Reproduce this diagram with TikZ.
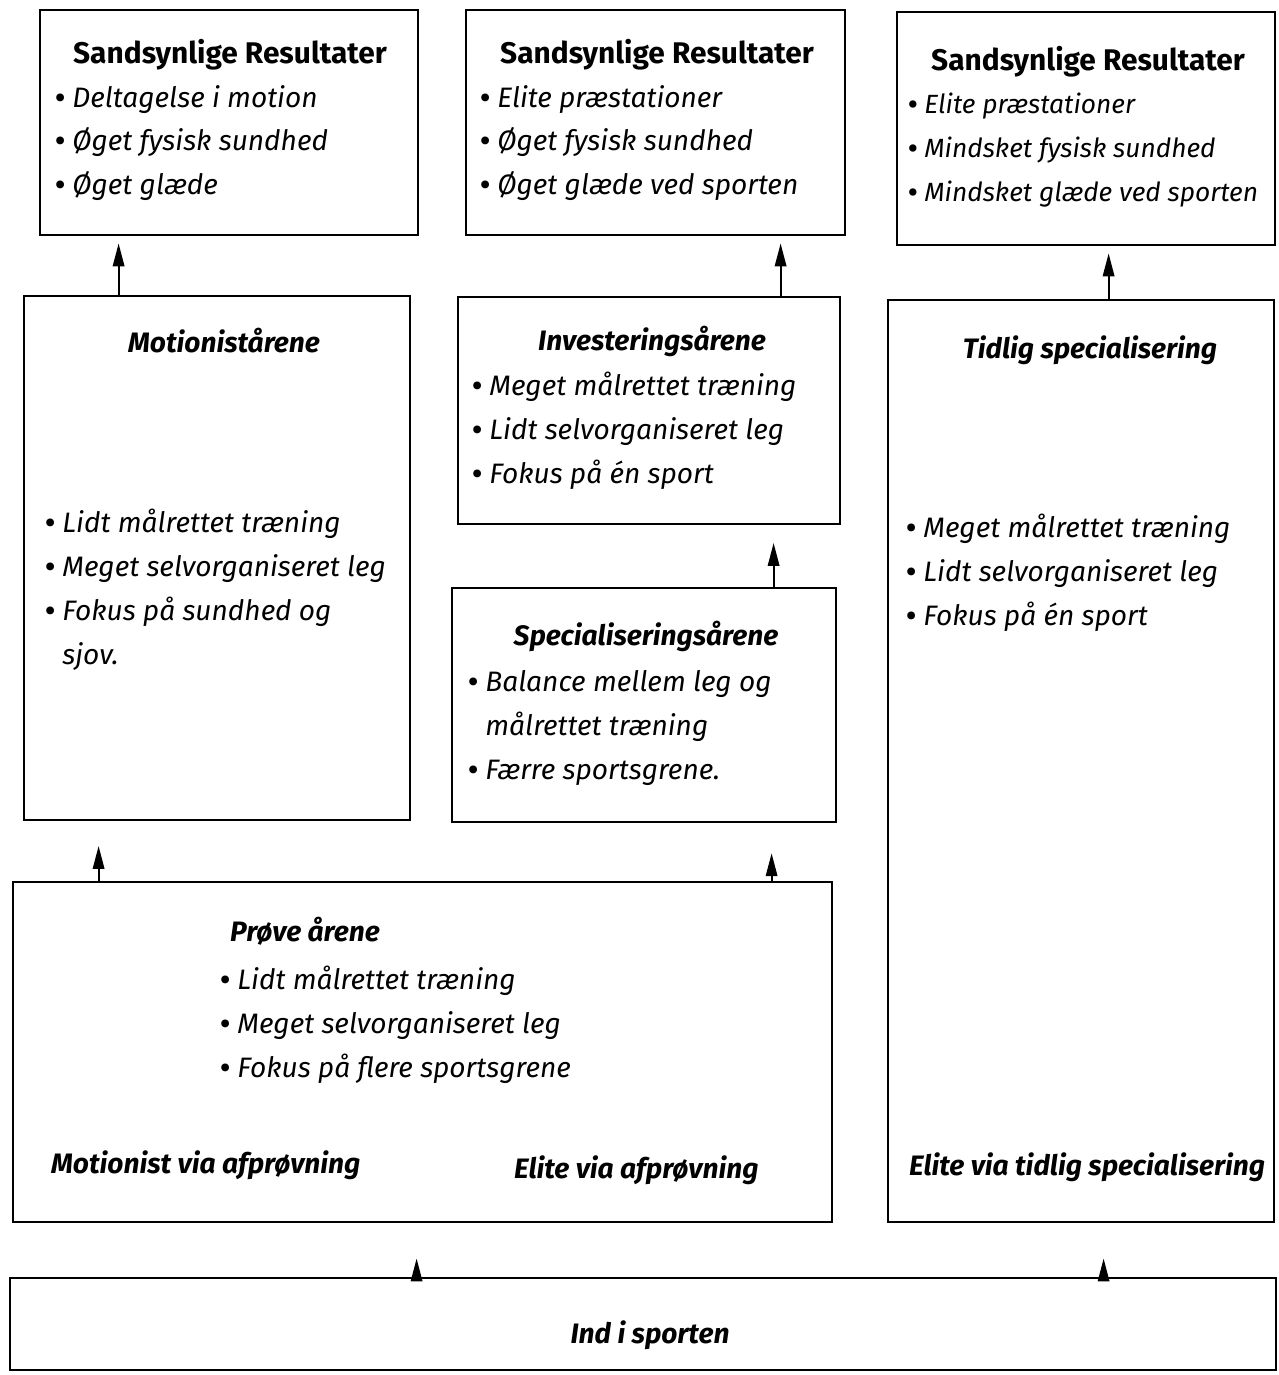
\documentclass[tikz,border=0pt]{standalone}
\usepackage{fontspec}
\setmainfont{Fira Sans}
\usepackage{tikz}
\usetikzlibrary{arrows.meta,calc,fit}
\newcommand{\blt}{{\bfseries\upshape •}}

\begin{document}
\begin{tikzpicture}[x=0.02cm,y=-0.02cm,
  box/.style={draw,line width=1.6pt,inner sep=0pt},
  hd/.style={font=\fontsize{17}{25}\selectfont\bfseries},
  ttl/.style={font=\fontsize{16}{25}\selectfont\bfseries\itshape},
  lst/.style={font=\fontsize{16}{25}\selectfont\itshape,align=left,anchor=west,inner sep=0pt},
  arr/.style={-{Triangle[length=13pt,width=6.5pt]},line width=1.1pt}]
\useasboundingbox (0,0) rectangle (1278,1375);
\node[box,fit={(40,10) (418,235)}] (res1) {};
\node[box,fit={(466,10) (845,235)}] (res2) {};
\node[box,fit={(897,12) (1275,245)}] (res3) {};
\node[box,fit={(24,296) (410,820)}] (mot) {};
\node[box,fit={(458,297) (840,524)}] (inv) {};
\node[box,fit={(452,588) (836,822)}] (spe) {};
\node[box,fit={(888,300) (1274,1222)}] (tid) {};
\node[box,fit={(13,882) (832,1222)}] (pro) {};
\node[box,fit={(10,1278) (1276,1370)}] (ind) {};
\node[hd] (res1t) at (230,55) {Sandsynlige Resultater};
\node[lst] (res1l) at (55,143) {\blt{} Deltagelse i motion\\\blt{} Øget fysisk sundhed\\\blt{} Øget glæde};
\node[hd] (res2t) at (657,55) {Sandsynlige Resultater};
\node[lst] (res2l) at (480,143) {\blt{} Elite præstationer\\\blt{} Øget fysisk sundhed\\\blt{} Øget glæde ved sporten};
\node[hd] (res3t) at (1088,62) {Sandsynlige Resultater};
\node[lst,font=\fontsize{15}{25}\selectfont\itshape] (res3l) at (908,150) {\blt{} Elite præstationer\\\blt{} Mindsket fysisk sundhed\\\blt{} Mindsket glæde ved sporten};
\node[ttl] (mott) at (224,341) {Motionistårene};
\node[lst] (motl) at (45,590) {\blt{} Lidt målrettet træning\\\blt{} Meget selvorganiseret leg\\\blt{} Fokus på sundhed og\\\phantom{\blt{} }sjov.};
\node[ttl] (invt) at (652,341) {Investeringsårene};
\node[lst] (invl) at (472,431) {\blt{} Meget målrettet træning\\\blt{} Lidt selvorganiseret leg\\\blt{} Fokus på én sport};
\node[ttl] (spet) at (646,636) {Specialiseringsårene};
\node[lst] (spel) at (468,728) {\blt{} Balance mellem leg og\\\phantom{\blt{} }målrettet træning\\\blt{} Færre sportsgrene.};
\node[ttl] (tidt) at (1090,350) {Tidlig specialisering};
\node[lst] (tidl) at (906,573) {\blt{} Meget målrettet træning\\\blt{} Lidt selvorganiseret leg\\\blt{} Fokus på én sport};
\node[ttl,anchor=west] (prot) at (224,931) {Prøve årene};
\node[lst] (prol) at (220,1025) {\blt{} Lidt målrettet træning\\\blt{} Meget selvorganiseret leg\\\blt{} Fokus på flere sportsgrene};
\node[ttl,anchor=west] (motv) at (45,1165) {Motionist via afprøvning};
\node[ttl,anchor=west] (elv) at (508,1170) {Elite via afprøvning};
\node[ttl,anchor=west] (eltv) at (903,1167) {Elite via tidlig specialisering};
\node[ttl] (indt) at (650,1335) {Ind i sporten};
\draw[arr,shorten >=4pt] ($(mot.north west)+(96,0)$) -- ($(res1.south west)+(80,0)$);
\draw[arr,shorten >=4pt] ($(inv.north west)+(324,0)$) -- ($(res2.south west)+(316,0)$);
\draw[arr,shorten >=4pt] ($(tid.north west)+(222,0)$) -- ($(res3.south west)+(213,0)$);
\draw[arr,shorten >=10pt] ($(spe.north west)+(323,0)$) -- ($(inv.south west)+(317,0)$);
\draw[arr,shorten >=14pt] ($(pro.north west)+(87,0)$) -- ($(mot.south west)+(76,0)$);
\draw[arr,shorten >=17pt] ($(pro.north west)+(760,0)$) -- ($(spe.south west)+(321,0)$);
\draw[arr,shorten >=20pt] ($(ind.north west)+(408,0)$) -- ($(pro.south west)+(405,0)$);
\draw[arr,shorten >=20pt] ($(ind.north west)+(1095,0)$) -- ($(tid.south west)+(217,0)$);
\end{tikzpicture}
\end{document}
